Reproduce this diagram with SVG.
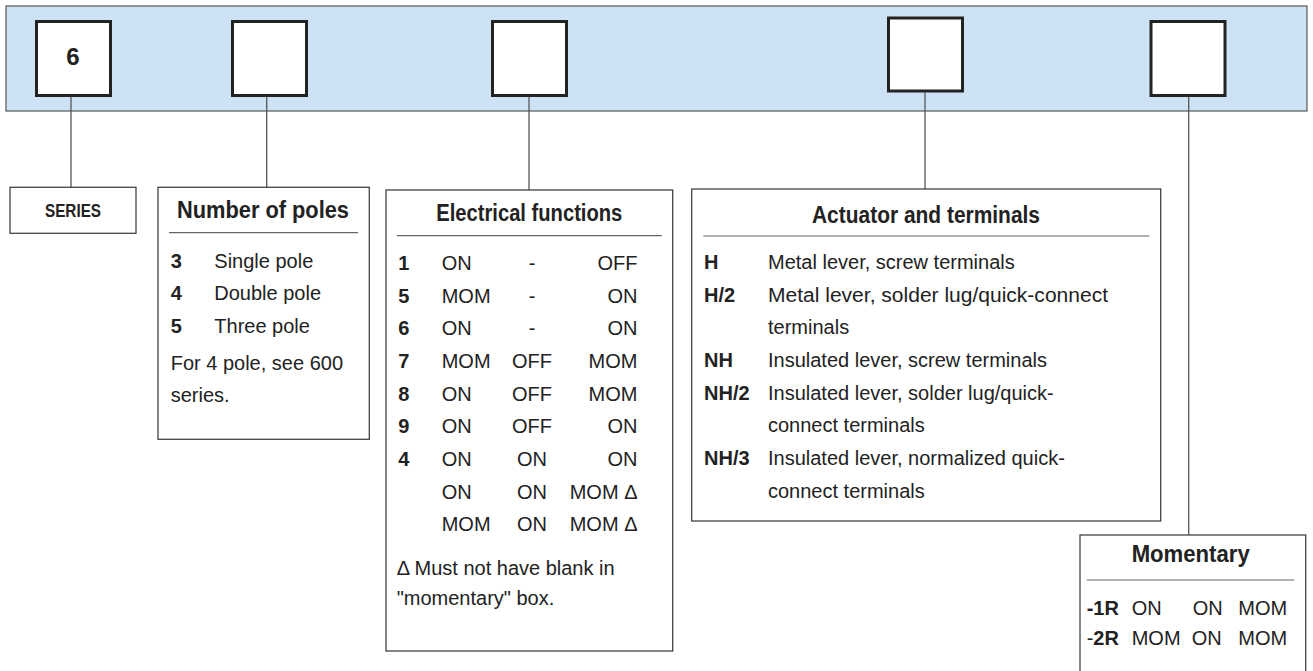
<svg xmlns="http://www.w3.org/2000/svg" width="1313" height="671" viewBox="0 0 1313 671">
<style>
.bar{fill:#cde3f5;stroke:#555;stroke-width:1.2}
.sq{fill:#fff;stroke:#222;stroke-width:3}
.box{fill:#fff;stroke:#444;stroke-width:1.3}
.dv{stroke:#666;stroke-width:1.2}
#connectors line{stroke:#555;stroke-width:1.3}
text{font-family:"Liberation Sans",Arial,sans-serif;fill:#222;font-size:20px}
.h{font-size:23px;font-weight:bold;text-anchor:middle}
.k{font-weight:bold}
.m{text-anchor:middle}
.e{text-anchor:end}
</style>
<rect class="bar" x="6" y="6" width="1301" height="105"/>
<g id="sq1"><rect class="sq" x="36.5" y="21.5" width="74" height="74"/><text class="k m" x="73" y="65" style="font-size:24px">6</text></g>
<g id="sq2"><rect class="sq" x="232.5" y="21.5" width="74" height="74"/></g>
<g id="sq3"><rect class="sq" x="492.5" y="21.5" width="74" height="74"/></g>
<g id="sq4"><rect class="sq" x="888.5" y="18" width="74" height="73"/></g>
<g id="sq5"><rect class="sq" x="1151" y="21.5" width="74" height="74"/></g>
<g id="connectors">
<line x1="71" y1="97" x2="71" y2="187"/>
<line x1="266.7" y1="97" x2="266.7" y2="187"/>
<line x1="529" y1="97" x2="529" y2="190"/>
<line x1="925" y1="92.5" x2="925" y2="189"/>
<line x1="1188.7" y1="97" x2="1188.7" y2="535"/>
</g>
<g id="series">
<rect class="box" x="10" y="187.3" width="126" height="46"/>
<text class="k m" x="73" y="217" style="font-size:18px" textLength="56" lengthAdjust="spacingAndGlyphs">SERIES</text>
</g>
<g id="poles">
<rect class="box" x="158" y="187.3" width="211.3" height="252"/>
<text class="h" x="263" y="218" textLength="172" lengthAdjust="spacingAndGlyphs">Number of poles</text>
<line class="dv" x1="169" y1="232.7" x2="358" y2="232.7"/>
<text class="k" x="170.7" y="267.7">3</text><text x="214.3" y="267.7">Single pole</text>
<text class="k" x="170.7" y="300.3">4</text><text x="214.3" y="300.3">Double pole</text>
<text class="k" x="170.7" y="333">5</text><text x="214.3" y="333">Three pole</text>
<text x="170.7" y="370">For 4 pole, see 600</text>
<text x="170.7" y="402">series.</text>
</g>
<g id="electrical">
<rect class="box" x="386" y="190" width="286.7" height="461"/>
<text class="h" x="529.3" y="220.5" textLength="186" lengthAdjust="spacingAndGlyphs">Electrical functions</text>
<line class="dv" x1="396.7" y1="235.7" x2="661.7" y2="235.7"/>
<text class="k" x="398.3" y="270">1</text><text x="441.7" y="270">ON</text><text class="m" x="532" y="270">-</text><text class="e" x="637.5" y="270">OFF</text>
<text class="k" x="398.3" y="302.7">5</text><text x="441.7" y="302.7">MOM</text><text class="m" x="532" y="302.7">-</text><text class="e" x="637.5" y="302.7">ON</text>
<text class="k" x="398.3" y="335.3">6</text><text x="441.7" y="335.3">ON</text><text class="m" x="532" y="335.3">-</text><text class="e" x="637.5" y="335.3">ON</text>
<text class="k" x="398.3" y="368">7</text><text x="441.7" y="368">MOM</text><text class="m" x="532" y="368">OFF</text><text class="e" x="637.5" y="368">MOM</text>
<text class="k" x="398.3" y="400.7">8</text><text x="441.7" y="400.7">ON</text><text class="m" x="532" y="400.7">OFF</text><text class="e" x="637.5" y="400.7">MOM</text>
<text class="k" x="398.3" y="433.3">9</text><text x="441.7" y="433.3">ON</text><text class="m" x="532" y="433.3">OFF</text><text class="e" x="637.5" y="433.3">ON</text>
<text class="k" x="398.3" y="466">4</text><text x="441.7" y="466">ON</text><text class="m" x="532" y="466">ON</text><text class="e" x="637.5" y="466">ON</text>
<text x="441.7" y="498.7">ON</text><text class="m" x="532" y="498.7">ON</text><text class="e" x="637.5" y="498.7">MOM Δ</text>
<text x="441.7" y="531.3">MOM</text><text class="m" x="532" y="531.3">ON</text><text class="e" x="637.5" y="531.3">MOM Δ</text>
<text x="396.7" y="575">Δ Must not have blank in</text>
<text x="396.7" y="605">"momentary" box.</text>
</g>
<g id="actuator">
<rect class="box" x="691.7" y="189" width="469" height="332"/>
<text class="h" x="926" y="222.5" textLength="228" lengthAdjust="spacingAndGlyphs">Actuator and terminals</text>
<line class="dv" x1="703.3" y1="236" x2="1149.3" y2="236"/>
<text class="k" x="704" y="269">H</text><text x="768" y="269">Metal lever, screw terminals</text>
<text class="k" x="704" y="301.7">H/2</text><text x="768" y="301.7" textLength="340" lengthAdjust="spacingAndGlyphs">Metal lever, solder lug/quick-connect</text>
<text x="768" y="334.3">terminals</text>
<text class="k" x="704" y="367">NH</text><text x="768" y="367">Insulated lever, screw terminals</text>
<text class="k" x="704" y="399.7">NH/2</text><text x="768" y="399.7">Insulated lever, solder lug/quick-</text>
<text x="768" y="432.3">connect terminals</text>
<text class="k" x="704" y="465">NH/3</text><text x="768" y="465">Insulated lever, normalized quick-</text>
<text x="768" y="497.7">connect terminals</text>
</g>
<g id="momentary">
<rect class="box" x="1080" y="535" width="225.7" height="150"/>
<text class="h" x="1190.7" y="562" textLength="118" lengthAdjust="spacingAndGlyphs">Momentary</text>
<line class="dv" x1="1086.7" y1="580" x2="1294.3" y2="580"/>
<text class="k" x="1086.7" y="615">-1R</text><text x="1131.7" y="615">ON</text><text x="1192.7" y="615">ON</text><text x="1238.3" y="615">MOM</text>
<text x="1086.7" y="645">-<tspan class="k">2R</tspan></text><text x="1131.7" y="645">MOM</text><text x="1191.7" y="645">ON</text><text x="1238.3" y="645">MOM</text>
</g>
</svg>
